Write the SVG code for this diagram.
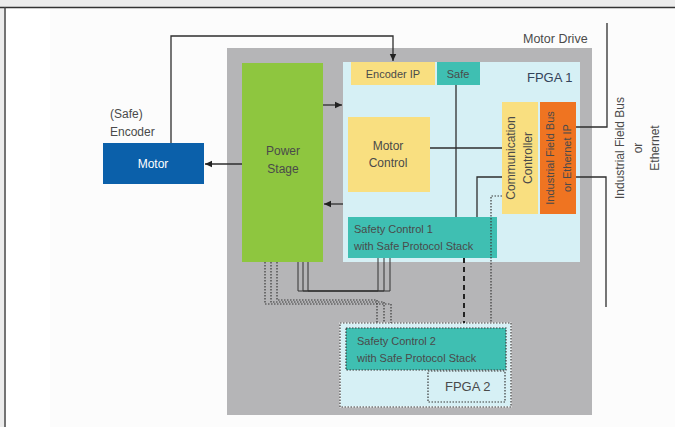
<svg xmlns="http://www.w3.org/2000/svg" width="675" height="427" viewBox="0 0 675 427">
<defs>
<marker id="ah" markerWidth="8" markerHeight="8" refX="7" refY="4" orient="auto" markerUnits="userSpaceOnUse">
<path d="M0,0.8 L7,4 L0,7.2 Z" fill="#222"/>
</marker>
<style>
text{font-family:"Liberation Sans",Arial,sans-serif;fill:#4a4a4a;font-size:12px}
.sm{font-size:11px}
.wire{fill:none;stroke:#2e2e2e;stroke-width:1.3}
.thin{fill:none;stroke:#333;stroke-width:1}
.dot{fill:none;stroke:#3a3a3a;stroke-width:1.2;stroke-dasharray:1.5 1.5}
.teal{fill:#3fbfb2}
.yel{fill:#f9df80}
</style>
</defs>
<rect x="0" y="0" width="675" height="427" fill="#ffffff"/>
<rect x="0" y="0" width="675" height="7" fill="#ececec"/>
<rect x="0" y="7" width="4" height="420" fill="#ececec"/>
<rect x="50" y="9" width="625" height="418" fill="#fcfcfc"/>
<line x1="0" y1="7.5" x2="675" y2="7.5" stroke="#333" stroke-width="1.5"/>
<line x1="5" y1="7" x2="5" y2="427" stroke="#444" stroke-width="1.5"/>

<g id="motor-drive">
<rect x="227" y="48" width="365" height="367" fill="#b5b5b7"/>
<text x="523" y="43" style="font-size:12.5px">Motor Drive</text>
</g>

<g id="fpga1">
<rect x="343" y="62" width="237" height="200" fill="#d6f0f5"/>
<text x="527" y="82" style="font-size:13px;fill:#34435a">FPGA 1</text>
</g>

<g id="power-stage">
<rect x="242" y="63" width="81" height="199" fill="#8ec63f"/>
<text x="283" y="155" text-anchor="middle">Power</text>
<text x="283" y="173" text-anchor="middle">Stage</text>
</g>

<g id="motor">
<rect x="103" y="143" width="101" height="41" fill="#0b60aa"/>
<text x="153" y="168" text-anchor="middle" style="fill:#ffffff">Motor</text>
</g>

<g id="encoder-label">
<text x="110" y="118">(Safe)</text>
<text x="110" y="136">Encoder</text>
</g>

<g id="encoder-ip">
<rect class="yel" x="351" y="62" width="84" height="23"/>
<text x="393" y="78" text-anchor="middle" class="sm">Encoder IP</text>
</g>

<g id="safe">
<rect class="teal" x="437" y="62" width="43" height="23"/>
<text x="458" y="78" text-anchor="middle" class="sm">Safe</text>
</g>

<g id="motor-control">
<rect class="yel" x="348" y="117" width="82" height="75"/>
<text x="388" y="150" text-anchor="middle">Motor</text>
<text x="388" y="167" text-anchor="middle">Control</text>
</g>

<g id="comm-controller">
<rect class="yel" x="502" y="102" width="36" height="112"/>
<text transform="translate(515,158) rotate(-90)" text-anchor="middle">Communication</text>
<text transform="translate(532,158) rotate(-90)" text-anchor="middle">Controller</text>
</g>

<g id="fieldbus-ip">
<rect x="540" y="102" width="36" height="112" fill="#ef7421"/>
<text transform="translate(554,158) rotate(-90)" text-anchor="middle" class="sm">Industrial Field Bus</text>
<text transform="translate(571,158) rotate(-90)" text-anchor="middle" class="sm">or Ethernet IP</text>
</g>

<g id="safety-control-1">
<rect class="teal" x="348" y="217" width="149" height="41"/>
<text x="354" y="233" class="sm">Safety Control 1</text>
<text x="354" y="250" class="sm">with Safe Protocol Stack</text>
</g>

<g id="fpga2">
<rect x="340" y="323" width="171" height="84" fill="#d6f0f5"/>
<rect x="340" y="323" width="171" height="84" fill="none" stroke="#ffffff" stroke-width="1"/>
<rect x="340" y="323" width="171" height="84" class="dot"/>
<rect x="428" y="371" width="77" height="31" class="dot"/>
<text x="445" y="391" style="font-size:13px">FPGA 2</text>
</g>

<g id="safety-control-2">
<rect class="teal" x="346" y="328" width="160" height="42"/>
<rect x="346" y="328" width="160" height="42" class="dot"/>
<text x="357" y="345" class="sm">Safety Control 2</text>
<text x="357" y="362" class="sm">with Safe Protocol Stack</text>
</g>

<g id="network-label">
<text transform="translate(624,148) rotate(-90)" text-anchor="middle">Industrial Field Bus</text>
<text transform="translate(642,148) rotate(-90)" text-anchor="middle">or</text>
<text transform="translate(659,148) rotate(-90)" text-anchor="middle">Ethernet</text>
</g>

<g id="connectors">
<path class="wire" d="M171,143 V36 H393 V61" marker-end="url(#ah)"/>
<path class="wire" d="M323,105 H342" marker-end="url(#ah)"/>
<path class="wire" d="M343,204 H324" marker-end="url(#ah)"/>
<path class="wire" d="M242,164 H205" marker-end="url(#ah)"/>
<path class="wire" d="M456,85 V217"/>
<path class="wire" d="M430,148 H502"/>
<path class="wire" d="M477,217 V177 H502"/>
<path class="dot" d="M502,196 H491 V323"/>
<path d="M464,258 V323" fill="none" stroke="#222" stroke-width="2" stroke-dasharray="5 4"/>
<path class="wire" d="M576,127 H607 V23"/>
<path class="wire" d="M576,177 H606 V307"/>
<path class="thin" d="M298,262 V291 H390 V258"/>
<path class="thin" d="M303,262 V291 H384 V258"/>
<path class="thin" d="M308,262 V291 H378 V258"/>
<path class="dot" d="M265,262 V304 H391 V323"/>
<path class="dot" d="M271,262 V302 H384 V323"/>
<path class="dot" d="M277,262 V300 H377 V323"/>
</g>
</svg>
